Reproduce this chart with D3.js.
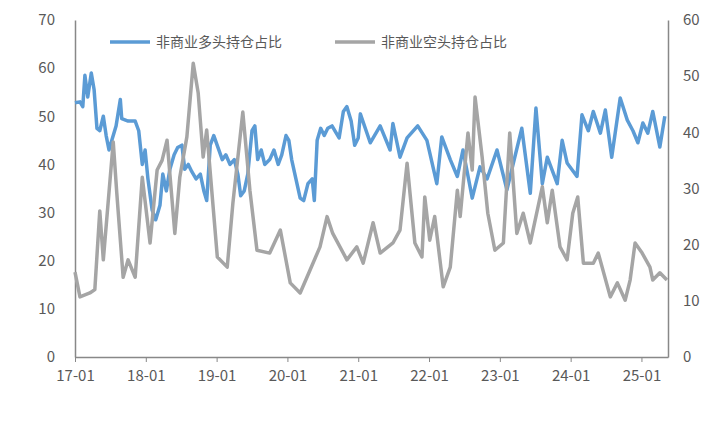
<!DOCTYPE html>
<html><head><meta charset="utf-8">
<script src="https://cdn.jsdelivr.net/npm/d3@7"></script>
<style>body{margin:0;background:#fff}text{font-family:"Noto Sans CJK SC","DejaVu Sans",sans-serif}</style>
</head><body><div id="chart"></div>
<script>
// years since 2017-01, value
const longT = [0,0.07,0.11,0.14,0.18,0.23,0.27,0.31,0.35,0.40,0.44,0.48,0.52,0.58,0.64,0.66,0.75,0.85,0.90,0.95,0.99,1.03,1.09,1.14,1.20,1.24,1.29,1.34,1.40,1.45,1.51,1.55,1.60,1.65,1.71,1.77,1.82,1.86,1.91,1.96,2.02,2.08,2.13,2.19,2.25,2.30,2.34,2.39,2.44,2.50,2.54,2.58,2.63,2.68,2.75,2.81,2.87,2.92,2.98,3.02,3.06,3.12,3.18,3.23,3.29,3.35,3.38,3.42,3.47,3.52,3.57,3.63,3.69,3.73,3.79,3.84,3.90,3.95,4.00,4.03,4.17,4.31,4.45,4.49,4.59,4.69,4.84,4.97,5.11,5.18,5.30,5.40,5.48,5.61,5.72,5.82,5.96,6.10,6.17,6.31,6.43,6.51,6.60,6.67,6.81,6.88,6.95,7.09,7.16,7.25,7.32,7.42,7.49,7.58,7.70,7.80,7.88,7.95,8.02,8.09,8.16,8.26,8.33];
const longV = [52.8,53,52,58.5,54,59,55.5,47.5,47,50,46,43,45,48,53.5,49.5,49,49,47,40,43,37,30.5,28.5,31.5,38,34.5,39,42,43.5,44,39,40,38.5,37,38,34.5,32.5,44,46,43.5,41,42,40,41,38,33.5,34.5,38,47,48,41,43,40,41,43,40,42,46,45,41,37,33,32.5,36,37,32.5,45,47.5,46,47.5,48,46.5,45.5,51,52,49,44,45.5,50.5,44.5,48,43,48.5,41.5,45.5,48,45,36,45.7,41,37.5,43,33,39.5,37,43,34.7,39,47.5,34,51.7,36,41.5,36,45,40.3,37.5,50.3,47,51,46.5,51.3,41.5,53.8,49.2,47,44.5,48.6,46.5,51,43.6,50];
const shortT = [0,0.07,0.21,0.28,0.35,0.40,0.54,0.59,0.68,0.75,0.85,0.95,1.06,1.16,1.23,1.30,1.41,1.48,1.58,1.67,1.74,1.81,1.86,2.01,2.15,2.23,2.37,2.47,2.57,2.75,2.90,3.04,3.18,3.32,3.46,3.56,3.64,3.84,3.98,4.07,4.21,4.31,4.49,4.59,4.69,4.80,4.90,4.94,5.01,5.08,5.20,5.30,5.40,5.44,5.55,5.61,5.65,5.75,5.83,5.93,6.05,6.14,6.24,6.33,6.43,6.60,6.67,6.74,6.85,6.95,7.03,7.10,7.18,7.32,7.39,7.56,7.66,7.77,7.84,7.91,8.01,8.12,8.16,8.26,8.36];
const shortV = [15.1,10.7,11.4,12,26,17.3,38.3,29.2,14.2,17.3,14.2,32,20.3,33.3,35,38.6,22,32,39.2,52.3,47,35.6,40.4,17.8,16,27.4,43.6,29.7,19,18.5,22.6,13.2,11.4,15.5,19.6,25,22,17.3,19.6,16.7,23.9,18.5,20.3,22.6,34.5,20.3,17.8,28.5,20.8,25,12.5,16,29.7,25,39.9,33.3,46.3,35.6,25.6,19,20.3,39.9,22,25.6,20.3,30.3,23.9,29.7,19.6,17.3,25.6,28.5,16.7,16.7,18.5,10.7,13.2,10.1,13.7,20.3,18.5,16,13.7,15,13.7];
const xTicks = [0,1,2,3,4,5,6,7,8];
const xLabels = ["17-01","18-01","19-01","20-01","21-01","22-01","23-01","24-01","25-01"];
const names = ["非商业多头持仓占比","非商业空头持仓占比"];

const W = 716, H = 437;
const svg = d3.select("#chart").append("svg").attr("width", W).attr("height", H);
const x = d3.scaleLinear().domain([0, 8.375]).range([75, 668]);
const yL = d3.scaleLinear().domain([0, 70]).range([357, 20]);
const yR = d3.scaleLinear().domain([0, 60]).range([357, 20]);

const axisCol = "#888";
svg.append("g").attr("transform", "translate(75,0)")
  .call(d3.axisLeft(yL).tickValues(d3.range(0, 71, 10)).tickSize(0).tickPadding(20))
  .call(g => g.select(".domain").attr("stroke", axisCol).attr("stroke-width", 1.5));
svg.append("g").attr("transform", "translate(668,0)")
  .call(d3.axisRight(yR).tickValues(d3.range(0, 61, 10)).tickSize(0).tickPadding(15))
  .call(g => g.select(".domain").attr("stroke", axisCol).attr("stroke-width", 1.5));
svg.append("g").attr("transform", "translate(0,357)")
  .call(d3.axisBottom(x).tickValues(xTicks).tickFormat((d, i) => xLabels[i]).tickSize(5).tickSizeOuter(0).tickPadding(8))
  .call(g => g.selectAll("line,.domain").attr("stroke", axisCol))
  .call(g => g.select(".domain").attr("stroke-width", 1.5));
svg.selectAll(".tick text").attr("font-size", 15).attr("fill", "#595959");

const line = (ys) => d3.line().x(d => x(d[0])).y(d => ys(d[1])).curve(d3.curveLinear);
svg.append("path").datum(d3.zip(longT, longV))
  .attr("d", line(yL)).attr("fill", "none").attr("stroke", "#5B9BD5").attr("stroke-width", 3.5).attr("stroke-linejoin", "round");
svg.append("path").datum(d3.zip(shortT, shortV))
  .attr("d", line(yR)).attr("fill", "none").attr("stroke", "#A5A5A5").attr("stroke-width", 3.5).attr("stroke-linejoin", "round");

const leg = [[110, "#5B9BD5"], [335, "#A5A5A5"]];
leg.forEach(([lx, c], i) => {
  svg.append("line").attr("x1", lx).attr("x2", lx + 40).attr("y1", 42).attr("y2", 42).attr("stroke", c).attr("stroke-width", 3.5);
  svg.append("text").attr("x", lx + 46).attr("y", 47).attr("font-size", 14).attr("fill", "#595959").text(names[i]);
});
</script></body></html>
